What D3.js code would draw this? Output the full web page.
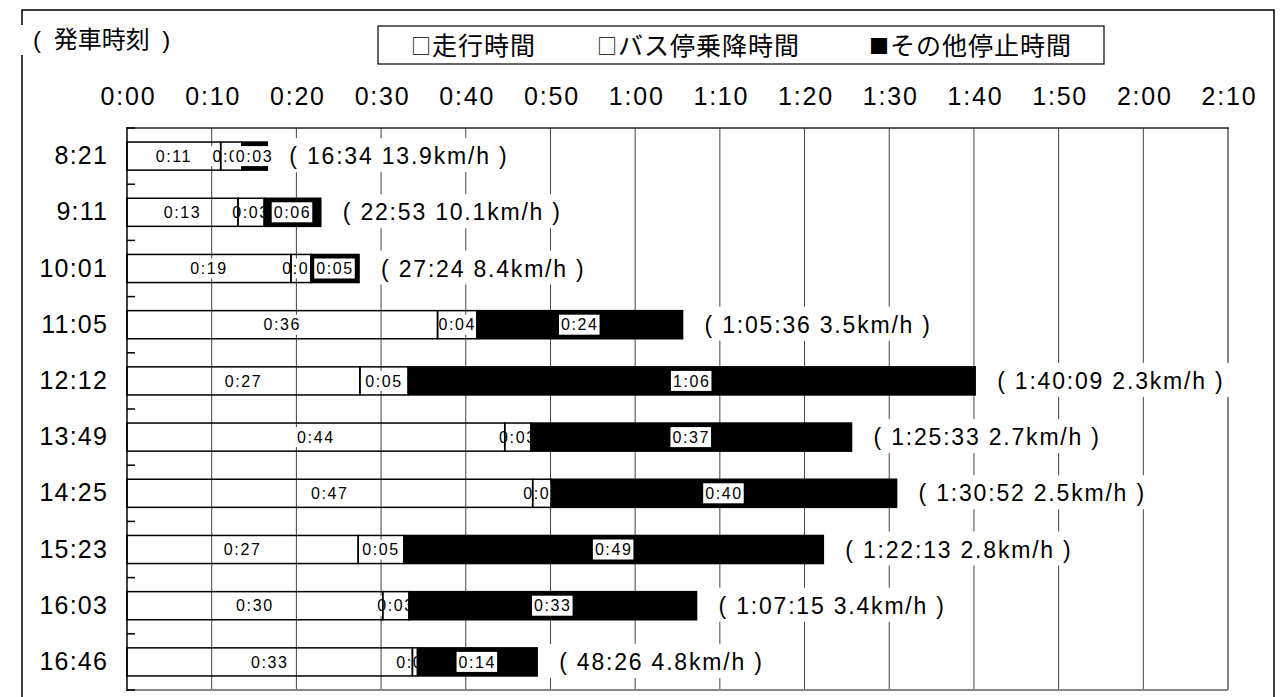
<!DOCTYPE html>
<html lang="ja">
<head>
<meta charset="utf-8">
<script src="https://cdn.jsdelivr.net/npm/d3@7"></script>
<style>
  body { margin: 0; background: #fff; }
  svg { display: block; }
  text { font-family: "Liberation Sans", Arial, "Noto Sans CJK JP", sans-serif; fill: #000; }
  .jp { font-family: "Noto Sans CJK JP", sans-serif; }
</style>
</head>
<body>
<svg id="chart" width="1288" height="697"></svg>
<script>
// departure times (categories, top to bottom)
const departures = ["8:21", "9:11", "10:01", "11:05", "12:12", "13:49", "14:25", "15:23", "16:03", "16:46"];
// segment durations in minutes
const runMinutes = [11.06, 13.10, 19.36, 36.67, 27.50, 44.60, 47.90, 27.30, 30.20, 33.70];
const busStopMinutes = [2.50, 3.10, 2.36, 4.65, 5.70, 3.10, 2.20, 5.40, 3.10, 0.60];
const otherStopMinutes = [3.01, 6.68, 5.68, 24.28, 66.95, 37.85, 40.77, 49.52, 33.95, 14.13];
// total time and speed shown right of each bar
const totalLabels = ["16:34", "22:53", "27:24", "1:05:36", "1:40:09", "1:25:33", "1:30:52", "1:22:13", "1:07:15", "48:26"];
const speeds = ["13.9", "10.1", "8.4", "3.5", "2.3", "2.7", "2.5", "2.8", "3.4", "4.8"];
// x axis
const tickValues = [0, 10, 20, 30, 40, 50, 60, 70, 80, 90, 100, 110, 120, 130];
const tickLabels = ["0:00", "0:10", "0:20", "0:30", "0:40", "0:50", "1:00", "1:10", "1:20", "1:30", "1:40", "1:50", "2:00", "2:10"];
const legendMarks = ["□", "□", "■"];
const legendLabels = ["走行時間", "バス停乗降時間", "その他停止時間"];
const titleText = "( 発車時刻 )";

const svg = d3.select("#chart");

const rows = departures.map((d, i) => ({
  dep: d, run: runMinutes[i], bus: busStopMinutes[i], other: otherStopMinutes[i]
}));
const keys = ["run", "bus", "other"];
const stacked = d3.stack().keys(keys)(rows);

const x = d3.scaleLinear().domain([0, 130]).range([127, 1228]);
const y = d3.scaleBand().domain(departures).range([128, 690])
  .paddingInner(0.5).paddingOuter(0.25);

// h:mm, minutes cut off (as in the source labels)
function fmt(m) {
  const h = Math.floor(m / 60);
  const mm = Math.floor(m % 60);
  return h + ":" + String(mm).padStart(2, "0");
}

// outer frame
svg.append("rect")
  .attr("x", 22).attr("y", 10)
  .attr("width", 1252).attr("height", 720)
  .attr("fill", "none").attr("stroke", "#000").attr("stroke-width", 1.5);

// title
svg.append("rect").attr("x", 18).attr("y", 25).attr("width", 170).attr("height", 30).attr("fill", "#fff");
svg.append("text")
  .attr("x", 33).attr("y", 48)
  .attr("font-size", 24)
  .attr("word-spacing", 6)
  .text(titleText);

// legend box
svg.append("rect")
  .attr("x", 378).attr("y", 26)
  .attr("width", 726).attr("height", 38)
  .attr("fill", "#fff").attr("stroke", "#000").attr("stroke-width", 1.2);
const legendX = [411, 597, 869];
legendLabels.forEach((t, i) => {
  const lt = svg.append("text")
    .attr("class", "jp")
    .attr("x", legendX[i]).attr("y", 54.5)
    .attr("font-size", 25)
    .attr("letter-spacing", 1);
  lt.append("tspan").attr("font-size", 20).attr("dy", -1).text(legendMarks[i]);
  lt.append("tspan").attr("dy", 1).text(t);
});

// x axis labels on top
const xAxis = d3.axisTop(x)
  .tickValues(tickValues)
  .tickFormat((d, i) => tickLabels[i])
  .tickSize(0).tickPadding(0);
svg.append("g")
  .attr("transform", "translate(1,105)")
  .call(xAxis)
  .call(g => g.select(".domain").remove())
  .selectAll("text")
  .attr("font-size", 25)
  .attr("letter-spacing", 1.8);

// gridlines
const [plotTop, plotBottom] = y.range();
svg.append("g")
  .selectAll("line")
  .data(tickValues.filter(v => v > 0 && v < 130))
  .join("line")
  .attr("x1", d => x(d)).attr("x2", d => x(d))
  .attr("y1", plotTop).attr("y2", plotBottom)
  .attr("stroke", "#444").attr("stroke-width", 1);

// plot border
svg.append("line").attr("x1", x(130)).attr("x2", x(130)).attr("y1", plotTop).attr("y2", plotBottom)
  .attr("stroke", "#888").attr("stroke-width", 2);
svg.append("line").attr("x1", x(0)).attr("x2", x(130)).attr("y1", plotBottom).attr("y2", plotBottom)
  .attr("stroke", "#888").attr("stroke-width", 2);
svg.append("line").attr("x1", x(0)).attr("x2", x(130) + 1).attr("y1", plotTop).attr("y2", plotTop)
  .attr("stroke", "#222").attr("stroke-width", 1.5);

// segment labels with white boxes
function drawLabels(series) {
  const g = svg.append("g");
  const items = g.selectAll("g")
    .data(series)
    .join("g")
    .attr("transform", d => `translate(${(x(d[0]) + x(d[1])) / 2},${y(d.data.dep) + y.bandwidth() / 2})`);
  items.append("text")
    .attr("text-anchor", "middle")
    .attr("dy", "0.35em")
    .attr("font-size", 16)
    .attr("letter-spacing", 1.6)
    .text(d => fmt(d[1] - d[0]));
  items.each(function() {
    const t = d3.select(this).select("text");
    const w = t.node().getComputedTextLength();
    d3.select(this).insert("rect", "text")
      .attr("x", -w / 2 - 2).attr("y", -10)
      .attr("width", w + 3).attr("height", 20)
      .attr("fill", "#fff");
  });
}

function drawBars(series, fill) {
  svg.append("g")
    .selectAll("rect")
    .data(series)
    .join("rect")
    .attr("x", d => x(d[0]))
    .attr("y", d => y(d.data.dep))
    .attr("width", d => x(d[1]) - x(d[0]))
    .attr("height", y.bandwidth())
    .attr("fill", fill)
    .attr("stroke", "#000")
    .attr("stroke-width", 1.5);
}

drawLabels(stacked[0]);
drawLabels(stacked[1]);
drawBars(stacked[0], "none");
drawBars(stacked[1], "none");
drawBars(stacked[2], "#000");
drawLabels(stacked[2]);

// totals right of the bars
const totals = svg.append("g")
  .selectAll("g")
  .data(stacked[2])
  .join("g")
  .attr("transform", d => `translate(${x(d[1]) + 22},${y(d.data.dep) + y.bandwidth() / 2})`);
totals.append("text")
  .attr("dy", "0.35em")
  .attr("font-size", 23)
  .attr("letter-spacing", 1.8)
  .text((d, i) => `( ${totalLabels[i]} ${speeds[i]}km/h )`);
totals.each(function() {
  const w = d3.select(this).select("text").node().getComputedTextLength();
  d3.select(this).insert("rect", "text")
    .attr("x", -10).attr("y", -18)
    .attr("width", w + 16).attr("height", 34)
    .attr("fill", "#fff");
});

// left axis line, category ticks and labels
svg.append("line").attr("x1", x(0)).attr("x2", x(0)).attr("y1", plotTop - 1).attr("y2", plotBottom + 1)
  .attr("stroke", "#000").attr("stroke-width", 1.5);
svg.append("g")
  .selectAll("line")
  .data(d3.range(departures.length + 1))
  .join("line")
  .attr("x1", x(0)).attr("x2", x(0) + 8)
  .attr("y1", k => plotTop + k * y.step()).attr("y2", k => plotTop + k * y.step())
  .attr("stroke", "#000").attr("stroke-width", 1.5);

const yAxis = d3.axisLeft(y).tickSize(0).tickPadding(0);
svg.append("g")
  .attr("transform", "translate(108,0)")
  .call(yAxis)
  .call(g => g.select(".domain").remove())
  .selectAll("text")
  .attr("font-size", 25)
  .attr("letter-spacing", 1.2);
</script>
</body>
</html>
